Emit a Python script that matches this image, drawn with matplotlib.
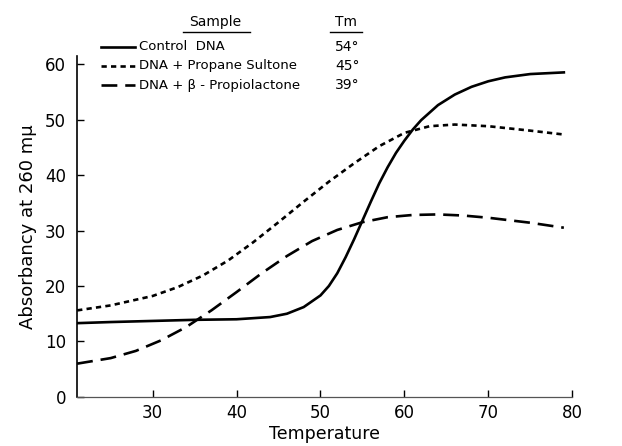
import matplotlib
matplotlib.use("Agg")
import matplotlib.pyplot as plt
from matplotlib.lines import Line2D

# curves (temperature in deg C, absorbancy)
control_t = [21, 25, 30, 35, 40, 44, 46, 48, 50, 51, 52, 53, 54, 55, 56, 57, 58,
             59, 60, 61, 62, 64, 66, 68, 70, 72, 75, 79]
control_a = [13.3, 13.5, 13.7, 13.9, 14.0, 14.4, 15.0, 16.2, 18.3, 20.0, 22.3, 25.2,
             28.4, 31.8, 35.2, 38.5, 41.4, 44.0, 46.2, 48.2, 49.9, 52.6, 54.5, 55.9,
             56.9, 57.6, 58.2, 58.5]

sultone_t = [21, 25, 30, 33, 36, 39, 42, 45, 48, 51, 54, 57, 60, 63, 66, 70, 75, 79]
sultone_a = [15.6, 16.5, 18.2, 19.8, 21.9, 24.6, 27.9, 31.5, 35.2, 38.8, 42.1, 45.2,
             47.6, 48.8, 49.1, 48.8, 48.0, 47.3]

lactone_t = [21, 25, 28, 31, 34, 37, 40, 43, 46, 49, 52, 55, 58, 61, 64, 67, 70, 75, 79]
lactone_a = [6.0, 7.0, 8.3, 10.2, 12.6, 15.6, 18.9, 22.3, 25.4, 28.1, 30.1, 31.5, 32.4,
             32.8, 32.9, 32.7, 32.3, 31.4, 30.5]

samples = ["Control  DNA", "DNA + Propane Sultone", "DNA + \u03b2 - Propiolactone"]
tms = ["54\u00b0", "45\u00b0", "39\u00b0"]

x_ticks = [30, 40, 50, 60, 70, 80]
y_ticks = [0, 10, 20, 30, 40, 50, 60]

solid = dict(color="black", lw=1.9, ls="-")
dotted = dict(color="black", lw=1.9, ls=(0, (2.0, 1.6)))
dashed = dict(color="black", lw=1.9, ls=(0, (6.0, 3.0)))
styles = [solid, dotted, dashed]

fig = plt.figure(figsize=(6.22, 4.46), dpi=100)
ax = fig.add_axes([0.124, 0.110, 0.796, 0.765])

ax.plot(control_t, control_a, **solid)
ax.plot(sultone_t, sultone_a, **dotted)
ax.plot(lactone_t, lactone_a, **dashed)

ax.set_xlim(21, 80)
ax.set_ylim(0, 61.5)
ax.set_xticks(x_ticks)
ax.set_yticks(y_ticks)
ax.tick_params(direction="in", length=5, width=1, labelsize=12)
ax.tick_params(axis="x", pad=5)
ax.tick_params(axis="y", pad=8)
for s in ["top", "right"]:
    ax.spines[s].set_visible(False)
ax.spines["left"].set_linewidth(1.2)
ax.spines["bottom"].set_linewidth(0.9)
ax.spines["bottom"].set_color("#555555")

ax.set_xlabel("Temperature", fontsize=12.5, labelpad=2)
ax.set_ylabel("Absorbancy at 260 m\u03bc", fontsize=13, labelpad=6)

# legend drawn as a small table in figure pixels
def fx(px):
    return px / 622.0

def fy(py):
    return 1 - py / 446.0

fig.text(fx(215), fy(22), "Sample", fontsize=10, ha="center", va="center")
fig.text(fx(346), fy(22), "Tm", fontsize=10, ha="center", va="center")
fig.add_artist(Line2D([fx(183), fx(250)], [fy(32), fy(32)], color="black", lw=1))
fig.add_artist(Line2D([fx(330), fx(362)], [fy(32), fy(32)], color="black", lw=1))

rows = [47, 66, 85]
for py, name, tm, st in zip(rows, samples, tms, styles):
    fig.add_artist(Line2D([fx(101), fx(135)], [fy(py), fy(py)], **st))
    fig.text(fx(139), fy(py), name, fontsize=9.5, ha="left", va="center")
    fig.text(fx(335), fy(py), tm, fontsize=10, ha="left", va="center")

fig.savefig("out.png", dpi=100)
